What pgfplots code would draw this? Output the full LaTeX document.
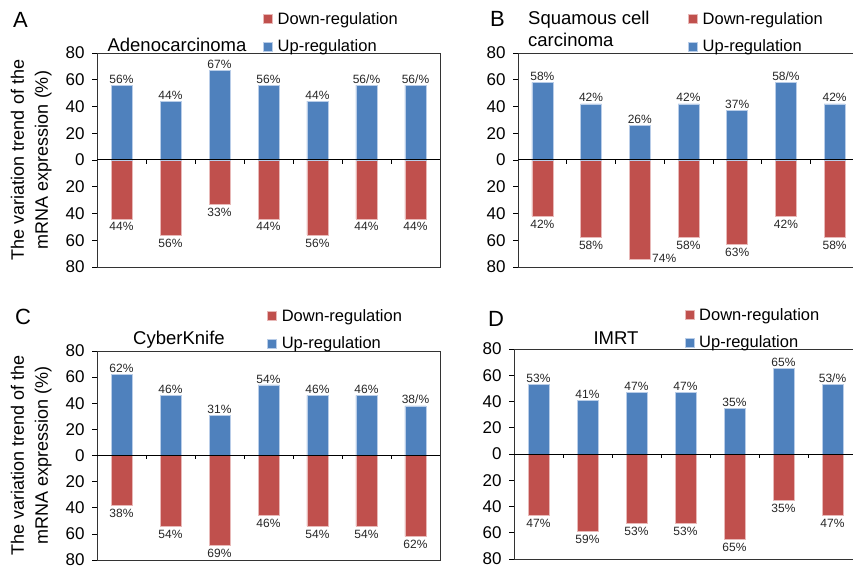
\documentclass[border=0pt]{standalone}
\usepackage{pgfplots}
\pgfplotsset{compat=1.18}
\usepackage{fontspec}
\setmainfont{Liberation Sans}

\definecolor{upblue}{RGB}{79,129,189}
\definecolor{downred}{RGB}{192,80,77}
\definecolor{upedge}{RGB}{185,205,232}
\definecolor{downedge}{RGB}{232,185,184}

\pgfplotsset{
  panel/.style={
    scale only axis,
    anchor=north west,
    xmin=-0.5, xmax=6.5, ymin=-80, ymax=80,
    xtick=\empty,
    ytick={-80,-60,...,80},
    yticklabel={\pgfmathparse{abs(\tick)}\pgfmathprintnumber{\pgfmathresult}},
    ytick pos=left, tick align=outside,
    major tick length=5pt,
    tick style={black, line width=0.6pt},
    axis line style={black!80, line width=0.6pt},
    /pgf/number format/assume math mode=true,
    ticklabel style={font=\fontsize{17}{20}\selectfont},
    yticklabel style={xshift=-4pt},
    ybar, bar width=21pt,
    point meta=explicit symbolic,
    nodes near coords,
    nodes near coords style={font=\fontsize{12}{14}\selectfont, text=black!85, inner sep=1.5pt},
    legend style={draw=none, fill=none, inner sep=0pt, row sep=10pt,
      font=\fontsize{16.5}{19}\selectfont, anchor=north west, cells={anchor=west},
      /tikz/every odd column/.append style={column sep=3pt}},
    every axis y label/.style={at={(axis description cs:-0.192,0.5)}, rotate=90,
      anchor=center, align=center, font=\fontsize{18}{24}\selectfont},
  },
  sq/.style={legend image code/.code={\fill[##1] (0pt,-4.5pt) rectangle (9pt,4.5pt);}},
  down/.style={fill=downred, draw=downedge, line width=0.5pt, bar shift=0pt, sq,
    every node near coord/.append style={anchor=north, yshift=-2pt}},
  up/.style={fill=upblue, draw=upedge, line width=0.5pt, bar shift=0pt, sq,
    every node near coord/.append style={anchor=south}},
}

% zero line with short ticks between the categories
\newcommand{\zeroline}{%
  \draw[black, line width=1pt] (axis cs:-0.5,0) -- (axis cs:6.5,0);
  \pgfplotsinvokeforeach{0.5,1.5,2.5,3.5,4.5,5.5}{%
    \draw[black, line width=0.6pt] (axis cs:##1,0) -- (axis cs:##1,-3);}%
}

\begin{document}
\begin{tikzpicture}
\useasboundingbox (0,0) rectangle (853pt,569pt);

% ---- A
\begin{axis}[panel, at={(97pt,516pt)}, width=343pt, height=214pt,
  ylabel={The variation trend of the\\mRNA expression (\%)},
  legend style={at={(axis description cs:0.484,1.20)}}]
\addplot[down] coordinates {(0,-44)[44\%] (1,-56)[56\%] (2,-33)[33\%] (3,-44)[44\%]
  (4,-56)[56\%] (5,-44)[44\%] (6,-44)[44\%]};
\addlegendentry{Down-regulation}
\addplot[up] coordinates {(0,56)[56\%] (1,44)[44\%] (2,67)[67\%] (3,56)[56\%]
  (4,44)[44\%] (5,56)[56/\%] (6,56)[56/\%]};
\addlegendentry{Up-regulation}
\zeroline
\end{axis}

% ---- B
\begin{axis}[panel, at={(518pt,516pt)}, width=341pt, height=214pt,
  legend style={at={(axis description cs:0.4985,1.20)}}]
\addplot[down] coordinates {(0,-42)[42\%] (1,-58)[58\%] (2,-74)[] (3,-58)[58\%]
  (4,-63)[63\%] (5,-42)[42\%] (6,-58)[58\%]};
\addlegendentry{Down-regulation}
\addplot[up] coordinates {(0,58)[58\%] (1,42)[42\%] (2,26)[26\%] (3,42)[42\%]
  (4,37)[37\%] (5,58)[58/\%] (6,42)[42\%]};
\addlegendentry{Up-regulation}
\zeroline
\node[anchor=west, font=\fontsize{12}{14}\selectfont, text=black!85, inner sep=1.5pt]
  at (axis cs:2.22,-73.5) {74\%};
\end{axis}

% ---- C
\begin{axis}[panel, at={(97pt,218pt)}, width=343pt, height=209pt,
  ylabel={The variation trend of the\\mRNA expression (\%)},
  legend style={at={(axis description cs:0.496,1.21)}}]
\addplot[down] coordinates {(0,-38)[38\%] (1,-54)[54\%] (2,-69)[69\%] (3,-46)[46\%]
  (4,-54)[54\%] (5,-54)[54\%] (6,-62)[62\%]};
\addlegendentry{Down-regulation}
\addplot[up] coordinates {(0,62)[62\%] (1,46)[46\%] (2,31)[31\%] (3,54)[54\%]
  (4,46)[46\%] (5,46)[46\%] (6,38)[38/\%]};
\addlegendentry{Up-regulation}
\zeroline
\end{axis}

% ---- D
\begin{axis}[panel, at={(514pt,220pt)}, width=343pt, height=210pt,
  legend style={at={(axis description cs:0.497,1.205)}}]
\addplot[down] coordinates {(0,-47)[47\%] (1,-59)[59\%] (2,-53)[53\%] (3,-53)[53\%]
  (4,-65)[65\%] (5,-35)[35\%] (6,-47)[47\%]};
\addlegendentry{Down-regulation}
\addplot[up] coordinates {(0,53)[53\%] (1,41)[41\%] (2,47)[47\%] (3,47)[47\%]
  (4,35)[35\%] (5,65)[65\%] (6,53)[53/\%]};
\addlegendentry{Up-regulation}
\zeroline
\end{axis}

% panel letters and titles
\begin{scope}[every node/.style={inner sep=0pt}]
\node[anchor=base west, font=\fontsize{22}{24}\selectfont] at (13pt,541pt) {A};
\node[anchor=base west, font=\fontsize{22}{24}\selectfont] at (490pt,542pt) {B};
\node[anchor=base west, font=\fontsize{22}{24}\selectfont] at (15pt,244pt) {C};
\node[anchor=base west, font=\fontsize{22}{24}\selectfont] at (488pt,242pt) {D};
\node[anchor=base, font=\fontsize{18.5}{22}\selectfont] at (177pt,517pt) {Adenocarcinoma};
\node[anchor=base west, font=\fontsize{18.5}{22}\selectfont] at (528pt,544pt) {Squamous cell};
\node[anchor=base west, font=\fontsize{18.5}{22}\selectfont] at (528pt,522pt) {carcinoma};
\node[anchor=base, font=\fontsize{18.5}{22}\selectfont] at (179pt,224pt) {CyberKnife};
\node[anchor=base, font=\fontsize{18.5}{22}\selectfont] at (616pt,224pt) {IMRT};
\end{scope}
\end{tikzpicture}
\end{document}
